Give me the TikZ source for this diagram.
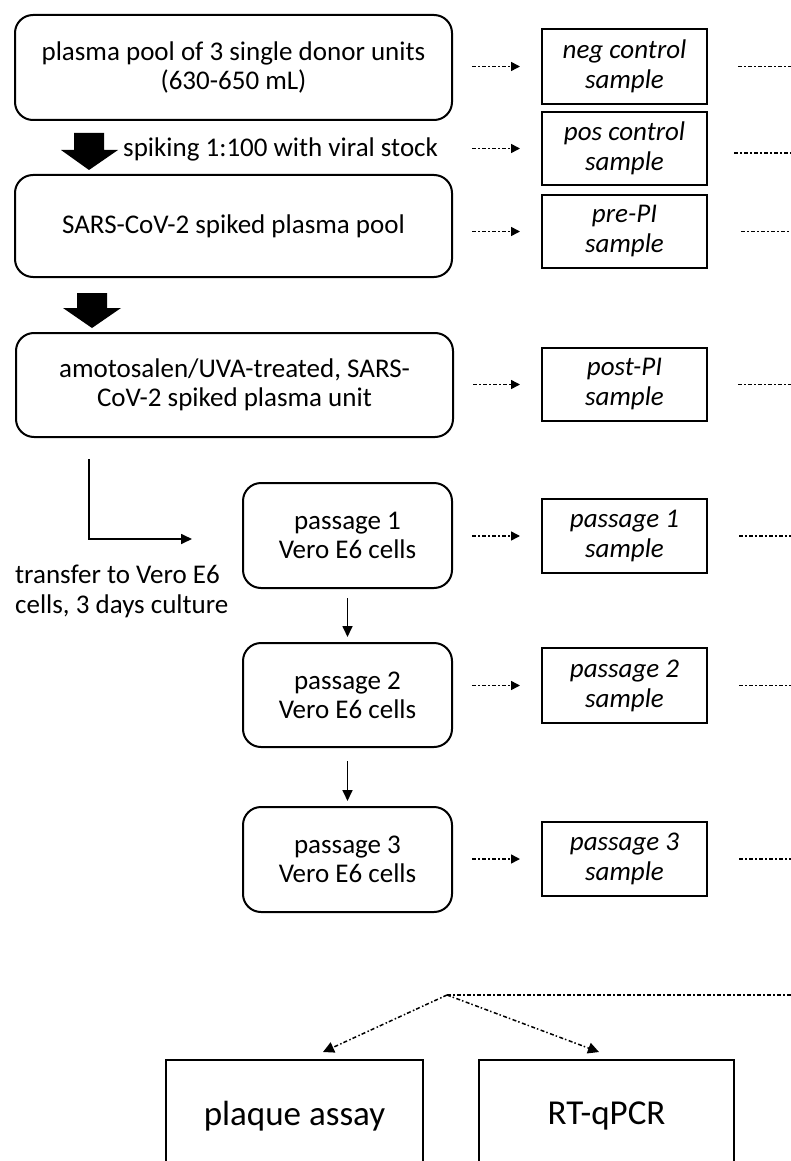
\documentclass[tikz,border=0pt]{standalone}
\usepackage{fontspec}
\setmainfont{Carlito}
\usetikzlibrary{arrows.meta,calc}
\begin{document}
\begin{tikzpicture}[x=1pt,y=-1pt,
  mainbox/.style={draw, line width=2pt, rounded corners=18pt, align=center, inner sep=0pt,
    font=\fontsize{27pt}{29pt}\selectfont},
  samplebox/.style={draw, line width=2pt, align=center, inner sep=0pt, minimum width=165pt,
    font=\itshape\fontsize{27pt}{30pt}\selectfont},
  resultbox/.style={draw, line width=2pt, align=center, inner sep=0pt, minimum height=112pt,
    font=\fontsize{35pt}{40pt}\selectfont},
  plainlabel/.style={inner sep=0pt, align=left, font=\fontsize{27pt}{30pt}\selectfont},
  dashline/.style={line width=1.5pt, dash pattern=on 4pt off 2pt on 1.5pt off 2.5pt},
  dasharrow/.style={dashline, -{Triangle[length=9pt,width=9pt]}},
  dasharrowb/.style={dashline, -{Triangle[length=11pt,width=11pt]}},
  thinarrow/.style={line width=1.7pt, -{Triangle[length=11pt,width=10pt]}}
]
\useasboundingbox (0,0) rectangle (791,1161);
\clip (0,0) rectangle (791,1161);
\fill[white] (0,0) rectangle (791,1161);
\coordinate (edge) at (800,0);

% main column
\node[mainbox, minimum width=437pt, minimum height=105pt] (A) at (233.5,67.5)
  {plasma pool of 3 single donor units\\(630-650 mL)};
\node[mainbox, minimum width=437pt, minimum height=102pt] (B) at (233.5,226)
  {SARS-CoV-2 spiked plasma pool};
\node[mainbox, minimum width=437pt, minimum height=104pt] (C) at (234.5,385)
  {amotosalen/UVA-treated, SARS-\\CoV-2 spiked plasma unit};
\node[mainbox, minimum width=209pt, minimum height=105pt] (P1) at (347.5,535.5)
  {passage 1\\Vero E6 cells};
\node[mainbox, minimum width=209pt, minimum height=104pt] (P2) at (347.5,695)
  {passage 2\\Vero E6 cells};
\node[mainbox, minimum width=209pt, minimum height=105pt] (P3) at (347.5,859.5)
  {passage 3\\Vero E6 cells};

\node[plainlabel, anchor=base west] (spike) at (123,157) {spiking 1:100 with viral stock};
\node[plainlabel, anchor=west] (transfer) at (15,591) {transfer to Vero E6\\cells, 3 days culture};

% block arrows
\coordinate (t1) at (89,170);
\fill (t1) -- ++(-28,-20) -- ++(13,0) -- ++(0,-17) -- ++(30,0) -- ++(0,17) -- ++(14,0) -- cycle;
\coordinate (t2) at (92,328);
\fill (t2) -- ++(-29,-20) -- ++(14,0) -- ++(0,-15) -- ++(30,0) -- ++(0,15) -- ++(14,0) -- cycle;

% elbow and passage arrows
\coordinate (e1) at (89,459);
\coordinate (e2) at (192,539);
\draw[thinarrow] (e1) |- (e2);
\draw[thinarrow, shorten <=9pt, shorten >=5pt] (P1) -- (P2);
\draw[thinarrow, shorten <=13pt, shorten >=5pt] (P2) -- (P3);

% sample boxes
\node[samplebox, minimum height=75pt] (neg) at (624.5,66.5) {neg control\\sample};
\node[samplebox, minimum height=73pt] (pos) at (624.5,148.5) {pos control\\sample};
\node[samplebox, minimum height=73pt] (pre) at (624.5,231.5) {pre-PI\\sample};
\node[samplebox, minimum height=73pt] (post) at (624.5,384.5) {post-PI\\sample};
\node[samplebox, minimum height=74pt] (s1) at (624.5,536) {passage 1\\sample};
\node[samplebox, minimum height=75pt] (s2) at (624.5,685.5) {passage 2\\sample};
\node[samplebox, minimum height=74pt] (s3) at (624.5,859) {passage 3\\sample};

% dashed arrows to samples
\draw[dasharrow, shorten <=19pt, shorten >=21pt] (A.east |- neg.west) -- (neg.west);
\draw[dasharrow, shorten <=19pt, shorten >=21pt] (A.east |- pos.west) -- (pos.west);
\draw[dasharrow, shorten <=19pt, shorten >=21pt] (B.east |- pre.west) -- (pre.west);
\draw[dasharrow, shorten <=19pt, shorten >=21pt] (C.east |- post.west) -- (post.west);
\draw[dasharrow, shorten <=19pt, shorten >=21pt] (P1.east |- s1.west) -- (s1.west);
\draw[dasharrow, shorten <=19pt, shorten >=21pt] (P2.east |- s2.west) -- (s2.west);
\draw[dasharrow, shorten <=19pt, shorten >=21pt] (P3.east |- s3.west) -- (s3.west);

% lines leaving to the right
\draw[dashline] ([xshift=30pt]neg.east) -- ++(80,0);
\draw[dashline] ([xshift=26pt,yshift=-4.5pt]pos.east) -- ++(80,0);
\draw[dashline] ([xshift=33pt]pre.east) -- ++(80,0);
\draw[dashline] ([xshift=30pt]post.east) -- ++(80,0);
\draw[dashline] ([xshift=31pt]s1.east) -- ++(80,0);
\draw[dashline] ([xshift=31pt]s2.east) -- ++(80,0);
\draw[dashline] ([xshift=31pt]s3.east) -- ++(80,0);

% bottom
\node[resultbox, minimum width=257pt] (plaque) at (294.5,1116) {plaque assay};
\node[resultbox, minimum width=255pt] (rt) at (606.5,1116) {RT-qPCR};
\coordinate (apex) at (447,995);
\draw[dashline] (apex) -- (apex -| edge);
\draw[dasharrowb] (apex) -- ($(plaque.north)+(28.5,-7)$);
\draw[dasharrowb] (apex) -- ($(rt.north)+(-7.5,-7)$);
\end{tikzpicture}
\end{document}
